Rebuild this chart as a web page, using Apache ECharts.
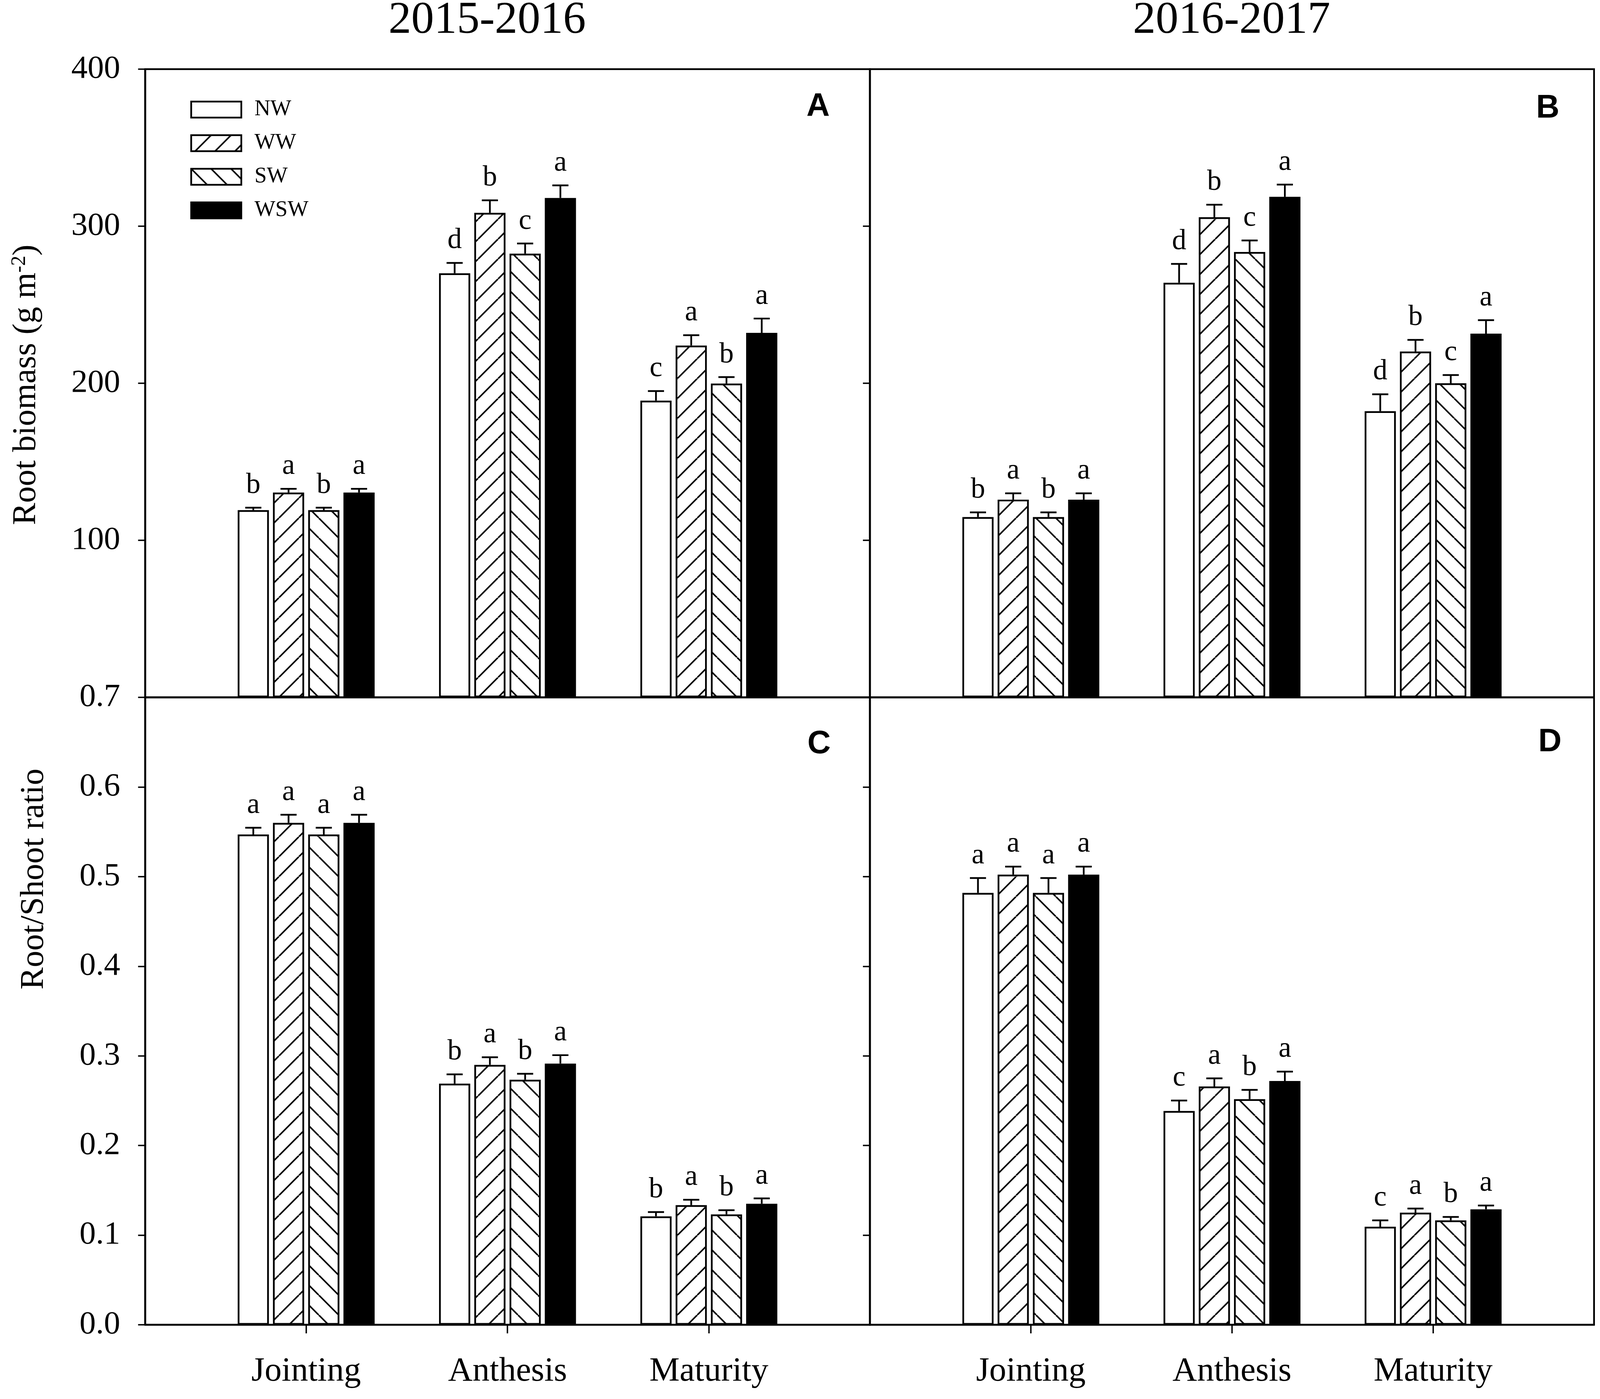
<!DOCTYPE html>
<html>
<head>
<meta charset="utf-8">
<script src="https://cdn.jsdelivr.net/npm/echarts@6/dist/echarts.min.js"></script>
<style>
html,body{margin:0;padding:0;background:#fff;overflow:hidden;}
#chart{position:absolute;left:0;top:0;}
</style>
</head>
<body>
<div id="chart"></div>
<script>
// ---------- data ----------
const categories = ['Jointing', 'Anthesis', 'Maturity'];
const treatments = ['NW', 'WW', 'SW', 'WSW'];
const yearTitles = ['2015-2016', '2016-2017'];
const panelLetters = ['A', 'B', 'C', 'D'];
const biomassTicks = [0, 400, 100];
const ratioTicks = [0, 0.7, 0.1];

// Panel A: root biomass 2015-2016 (rows: NW, WW, SW, WSW; cols: Jointing, Anthesis, Maturity)
const meanA = [[119.2, 270.0, 188.9], [130.4, 308.5, 224.0], [119.2, 282.5, 199.8], [130.4, 318.0, 232.1]];
const errA  = [[1.6, 6.6, 6.1], [2.4, 8.0, 6.6], [1.6, 6.5, 4.1], [2.4, 8.0, 9.1]];
const sigA  = [['b', 'd', 'c'], ['a', 'b', 'a'], ['b', 'c', 'b'], ['a', 'a', 'a']];
// Panel B: root biomass 2016-2017
const meanB = [[114.8, 264.0, 182.2], [125.9, 305.7, 220.2], [114.8, 283.6, 200.0], [125.9, 318.7, 231.6]];
const errB  = [[3.0, 12.0, 10.8], [4.0, 8.0, 7.4], [3.0, 7.3, 5.2], [4.0, 7.8, 8.6]];
const sigB  = [['b', 'd', 'd'], ['a', 'b', 'b'], ['b', 'c', 'c'], ['a', 'a', 'a']];
// Panel C: root/shoot ratio 2015-2016
const meanC = [[0.547, 0.269, 0.121], [0.560, 0.290, 0.1335], [0.547, 0.2734, 0.1231], [0.560, 0.2914, 0.135]];
const errC  = [[0.0075, 0.0104, 0.0047], [0.009, 0.0085, 0.006], [0.0075, 0.0066, 0.0047], [0.009, 0.0094, 0.006]];
const sigC  = [['a', 'b', 'b'], ['a', 'a', 'a'], ['a', 'b', 'b'], ['a', 'a', 'a']];
// Panel D: root/shoot ratio 2016-2017
const meanD = [[0.4818, 0.2385, 0.1094], [0.5022, 0.2659, 0.1251], [0.4818, 0.2517, 0.1165], [0.5022, 0.272, 0.1288]];
const errD  = [[0.0166, 0.0117, 0.0071], [0.009, 0.009, 0.0046], [0.0166, 0.0104, 0.0038], [0.009, 0.0104, 0.0042]];
const sigD  = [['a', 'c', 'c'], ['a', 'a', 'a'], ['a', 'b', 'b'], ['a', 'a', 'a']];

// ---------- layout scale (design space 4565 x 3581, fitted to the viewport) ----------
const VW = window.innerWidth || document.documentElement.clientWidth || 4565;
const VH = window.innerHeight || document.documentElement.clientHeight || 3581;
const KX = VW / 4565;
const KY = VH / 3581;
const DPR = window.devicePixelRatio || 1;
function ux(v) { return v * KX; }
function uy(v) { return v * KY; }
function uf(v) { return v * KX; }

const el = document.getElementById('chart');
el.style.width = VW + 'px';
el.style.height = VH + 'px';

// ---------- styles ----------
const SERIF = 'Liberation Serif';
const SANS = 'Liberation Sans';
const BAR_W = ux(89);
const BAR_GAP = 0.13;
const PITCH = BAR_W * (1 + BAR_GAP);
const LINE_W = uf(5);

function hatch(forward) {
  const s = Math.round(ux(57) * DPR);
  const c = document.createElement('canvas');
  c.width = s; c.height = s;
  const g = c.getContext('2d');
  g.fillStyle = '#fff'; g.fillRect(0, 0, s, s);
  g.strokeStyle = '#000'; g.lineWidth = uf(4.5) * DPR;
  g.beginPath();
  for (let o = -s; o <= s; o += s) {
    if (forward) { g.moveTo(o, s); g.lineTo(o + s, 0); }
    else { g.moveTo(o, 0); g.lineTo(o + s, s); }
  }
  g.stroke();
  return { image: c, repeat: 'repeat', scaleX: 1 / DPR, scaleY: 1 / DPR };
}
const fills = ['#ffffff', hatch(true), hatch(false), '#000000'];

const panels = [
  { mean: meanA, err: errA, sig: sigA, ticks: biomassTicks, left: 414, top: 177, width: 2068, height: 1608, labels: true, bottom: false },
  { mean: meanB, err: errB, sig: sigB, ticks: biomassTicks, left: 2482, top: 177, width: 2066, height: 1608, labels: false, bottom: false },
  { mean: meanC, err: errC, sig: sigC, ticks: ratioTicks, left: 414, top: 1785, width: 2068, height: 1606, labels: true, bottom: true },
  { mean: meanD, err: errD, sig: sigD, ticks: ratioTicks, left: 2482, top: 1785, width: 2066, height: 1606, labels: false, bottom: true }
];

const grids = [], xAxes = [], yAxes = [], series = [];
panels.forEach(function (p, pi) {
  grids.push({ left: ux(p.left), top: uy(p.top), width: ux(p.width), height: uy(p.height), show: true, borderColor: '#000', borderWidth: LINE_W, backgroundColor: 'transparent', containLabel: false });
  xAxes.push({
    type: 'value', gridIndex: pi, min: -0.8, max: 2.8,
    splitLine: { show: false },
    axisLine: { show: true, onZero: false, lineStyle: { color: '#000', width: LINE_W } },
    axisTick: { show: p.bottom, customValues: [0, 1, 2], length: uy(22), inside: false, lineStyle: { color: '#000', width: uf(4) } },
    axisLabel: { show: p.bottom, customValues: [0, 1, 2], formatter: function (v) { return categories[Math.round(v)] || ''; }, margin: uy(77), color: '#000', fontSize: uf(97), fontFamily: SERIF }
  });
  const isRatio = p.ticks === ratioTicks;
  yAxes.push({
    type: 'value', gridIndex: pi, min: p.ticks[0], max: p.ticks[1], interval: p.ticks[2], position: 'left',
    splitLine: { show: false },
    axisLine: { show: true, onZero: false, lineStyle: { color: '#000', width: LINE_W } },
    axisTick: { show: true, inside: false, length: ux(20), lineStyle: { color: '#000', width: uf(4) } },
    axisLabel: {
      show: p.labels, showMinLabel: isRatio, margin: ux(71), color: '#000', fontSize: uf(93), fontFamily: SERIF,
      formatter: function (v) { return isRatio ? v.toFixed(1) : String(Math.round(v)); }
    }
  });
  treatments.forEach(function (t, k) {
    series.push({
      type: 'bar', name: t, xAxisIndex: pi, yAxisIndex: pi,
      data: categories.map(function (c, ci) { return [ci, p.mean[k][ci]]; }),
      barWidth: BAR_W, barGap: (BAR_GAP * 100) + '%',
      itemStyle: { color: fills[k], borderColor: '#000', borderWidth: LINE_W },
      emphasis: { disabled: true }, z: 2, animation: false
    });
  });
  const errData = [];
  treatments.forEach(function (t, k) {
    categories.forEach(function (c, ci) { errData.push([ci, k, p.mean[k][ci], p.err[k][ci]]); });
  });
  series.push({
    type: 'custom', xAxisIndex: pi, yAxisIndex: pi, z: 10, animation: false, silent: true,
    dimensions: ['c', 'k', 'm', 'e'], encode: { x: 0, y: 2 },
    data: errData,
    renderItem: function (params, api) {
      const c = api.value(0), k = api.value(1), m = api.value(2), e = api.value(3);
      const p0 = api.coord([c, m]);
      const p1 = api.coord([c, m + e]);
      const x = p0[0] + (k - 1.5) * PITCH;
      return {
        type: 'group',
        children: [
          { type: 'line', shape: { x1: x, y1: p0[1], x2: x, y2: p1[1] }, style: { stroke: '#000', lineWidth: LINE_W } },
          { type: 'line', shape: { x1: x - ux(23), y1: p1[1], x2: x + ux(23), y2: p1[1] }, style: { stroke: '#000', lineWidth: LINE_W } },
          { type: 'text', style: { text: p.sig[k][c], x: x, y: p1[1] - uy(20), align: 'center', verticalAlign: 'bottom', fontSize: uf(82), fontFamily: SERIF, fill: '#000' } }
        ]
      };
    }
  });
});

function mkTitle(text, x, y, size, family, weight) {
  return { text: text, left: ux(x), top: uy(y), padding: 0, textAlign: 'center', textVerticalAlign: 'middle',
    textStyle: { fontSize: uf(size), fontWeight: weight, fontFamily: family, color: '#000' } };
}
const titles = [
  mkTitle(yearTitles[0], 1390, 53, 130, SERIF, 'normal'),
  mkTitle(yearTitles[1], 3514, 53, 130, SERIF, 'normal'),
  mkTitle(panelLetters[0], 2334, 274, 92, SANS, 'bold'),
  mkTitle(panelLetters[1], 4416, 278, 92, SANS, 'bold'),
  mkTitle(panelLetters[2], 2337, 1905, 92, SANS, 'bold'),
  mkTitle(panelLetters[3], 4422, 1900, 92, SANS, 'bold')
];

const chart = echarts.init(el, null, { renderer: 'canvas' });
chart.setOption({
  backgroundColor: '#fff',
  animation: false,
  title: titles,
  legend: {
    show: true, orient: 'vertical', left: ux(543), top: uy(252), padding: 0,
    itemWidth: ux(143), itemHeight: uy(41), itemGap: uy(29), icon: 'rect', selectedMode: false,
    data: treatments,
    itemStyle: { borderWidth: LINE_W, borderColor: '#000' },
    textStyle: { fontFamily: SERIF, fontSize: uf(63), color: '#000', padding: [0, 0, 0, ux(32)], lineHeight: uy(41) }
  },
  graphic: [
    { type: 'text', x: ux(75), y: uy(985), rotation: Math.PI / 2, silent: true,
      style: { text: 'Root biomass (g m{sup|-2})', fontSize: uf(95), fontFamily: SERIF, fill: '#000', align: 'center', verticalAlign: 'middle',
        rich: { sup: { fontSize: uf(58), fontFamily: SERIF, verticalAlign: 'top', fill: '#000' } } } },
    { type: 'text', x: ux(98), y: uy(2250), rotation: Math.PI / 2, silent: true,
      style: { text: 'Root/Shoot ratio', fontSize: uf(95), fontFamily: SERIF, fill: '#000', align: 'center', verticalAlign: 'middle' } }
  ],
  grid: grids,
  xAxis: xAxes,
  yAxis: yAxes,
  series: series
});
</script>
</body>
</html>
